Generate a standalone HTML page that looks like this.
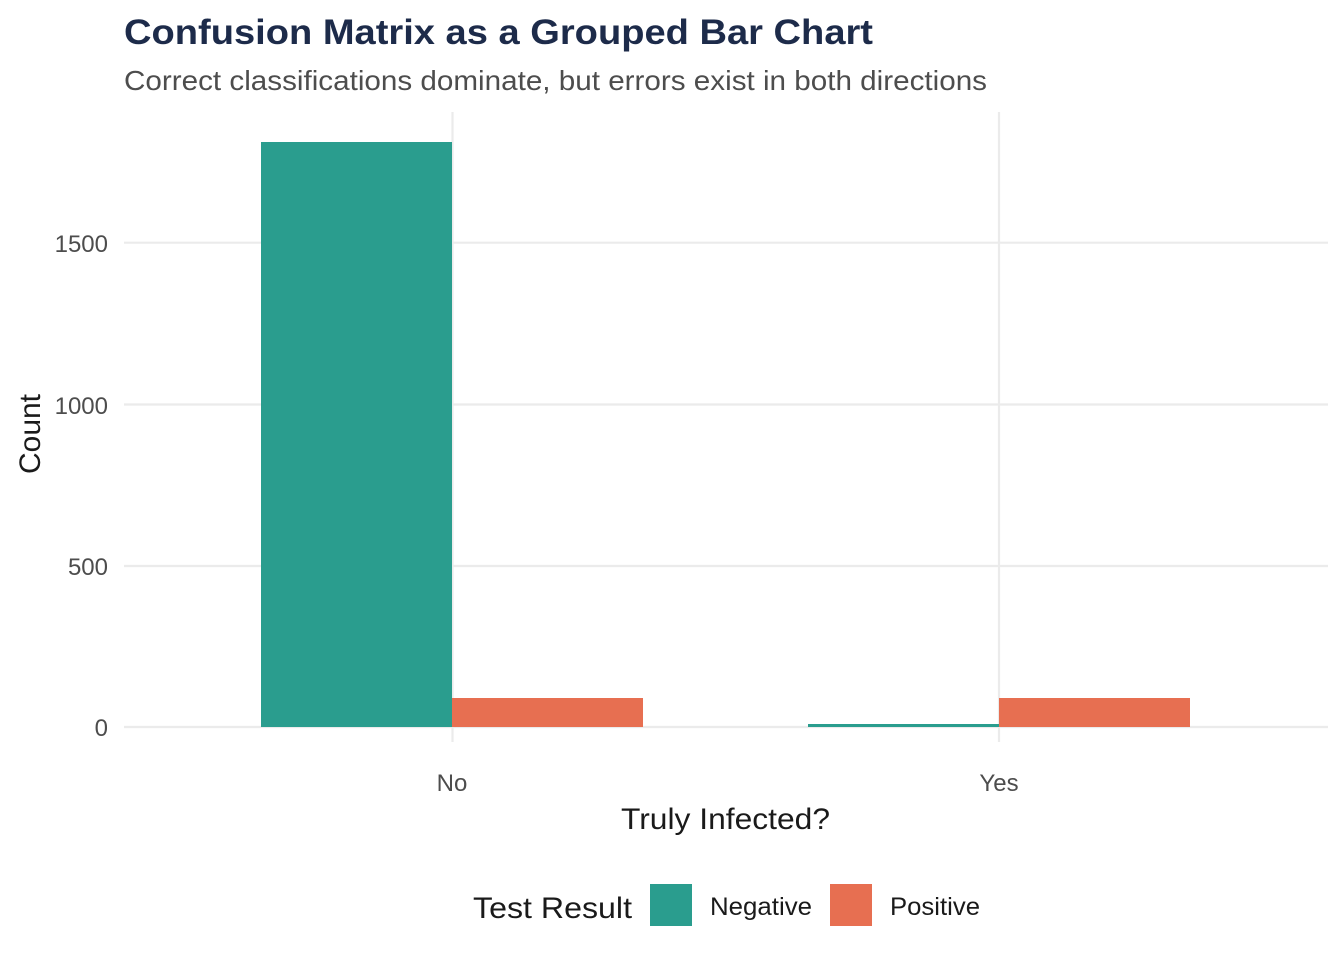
<!DOCTYPE html>
<html><head><meta charset="utf-8"><style>body{margin:0;background:#fff}</style></head><body>
<svg width="1344" height="960" xmlns="http://www.w3.org/2000/svg" font-family="Liberation Sans, sans-serif">
<rect width="1344" height="960" fill="#fff"/>
<g stroke="#ebebeb" stroke-width="2.2">
<line x1="124" x2="1328" y1="727" y2="727"/>
<line x1="124" x2="1328" y1="566" y2="566"/>
<line x1="124" x2="1328" y1="404.5" y2="404.5"/>
<line x1="124" x2="1328" y1="242.7" y2="242.7"/>
<line x1="452.5" x2="452.5" y1="112" y2="742"/>
<line x1="999" x2="999" y1="112" y2="742"/>
</g>
<rect x="261" y="142" width="191" height="585" fill="#2a9d8e"/>
<rect x="452" y="698" width="191" height="29" fill="#e76f51"/>
<rect x="808" y="724" width="191" height="3" fill="#2a9d8e"/>
<rect x="999" y="698" width="191" height="29" fill="#e76f51"/>
<g fill="#4d4d4d" font-size="24" text-anchor="end">
<text x="108" y="736">0</text>
<text x="108" y="575">500</text>
<text x="108" y="414">1000</text>
<text x="108" y="252">1500</text>
</g>
<g fill="#4d4d4d" font-size="24" text-anchor="middle">
<text x="452" y="791">No</text>
<text x="999" y="791">Yes</text>
</g>
<text x="621" y="829" font-size="30" textLength="209" lengthAdjust="spacingAndGlyphs" fill="#1a1a1a">Truly Infected?</text>
<text transform="translate(40,434) rotate(-90)" font-size="30" text-anchor="middle" fill="#1a1a1a">Count</text>
<text x="124" y="44" font-size="35" font-weight="bold" textLength="749" lengthAdjust="spacingAndGlyphs" fill="#1d2b4a">Confusion Matrix as a Grouped Bar Chart</text>
<text x="124" y="90" font-size="28" textLength="863" lengthAdjust="spacingAndGlyphs" fill="#4d4d4d">Correct classifications dominate, but errors exist in both directions</text>
<text x="473" y="918" font-size="30" textLength="159" lengthAdjust="spacingAndGlyphs" fill="#1a1a1a">Test Result</text>
<rect x="650" y="884" width="42" height="42" fill="#2a9d8e"/>
<text x="710" y="915" font-size="25" textLength="102" lengthAdjust="spacingAndGlyphs" fill="#1a1a1a">Negative</text>
<rect x="830" y="884" width="42" height="42" fill="#e76f51"/>
<text x="890" y="915" font-size="25" textLength="90" lengthAdjust="spacingAndGlyphs" fill="#1a1a1a">Positive</text>
</svg>
</body></html>
